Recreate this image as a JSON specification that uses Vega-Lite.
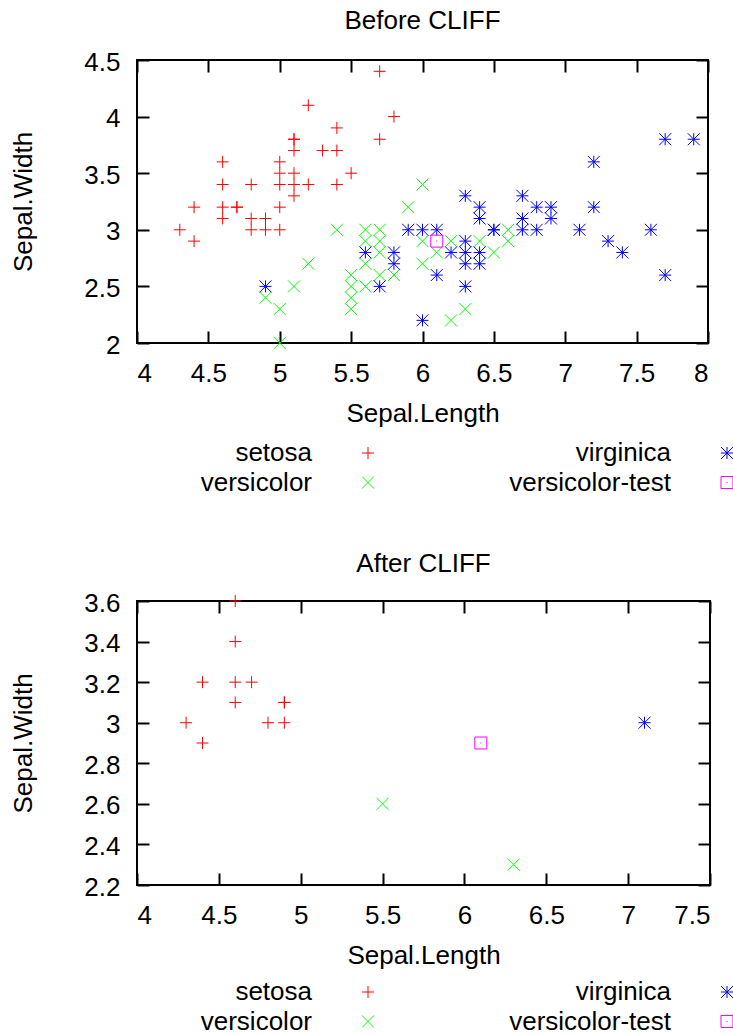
{
  "$schema": "https://vega.github.io/schema/vega-lite/v6.json",
  "padding": {"left": 9, "top": 7, "right": 0, "bottom": 0},
  "background": "white",
  "datasets": {
    "before": [
      {"species": "setosa", "sepal_length": 4.3, "sepal_width": 3.0},
      {"species": "setosa", "sepal_length": 4.4, "sepal_width": 3.2},
      {"species": "setosa", "sepal_length": 4.4, "sepal_width": 2.9},
      {"species": "setosa", "sepal_length": 4.6, "sepal_width": 3.6},
      {"species": "setosa", "sepal_length": 4.6, "sepal_width": 3.4},
      {"species": "setosa", "sepal_length": 4.6, "sepal_width": 3.2},
      {"species": "setosa", "sepal_length": 4.6, "sepal_width": 3.1},
      {"species": "setosa", "sepal_length": 4.7, "sepal_width": 3.2},
      {"species": "setosa", "sepal_length": 4.7, "sepal_width": 3.2},
      {"species": "setosa", "sepal_length": 4.8, "sepal_width": 3.4},
      {"species": "setosa", "sepal_length": 4.8, "sepal_width": 3.1},
      {"species": "setosa", "sepal_length": 4.8, "sepal_width": 3.0},
      {"species": "setosa", "sepal_length": 4.9, "sepal_width": 3.1},
      {"species": "setosa", "sepal_length": 4.9, "sepal_width": 3.0},
      {"species": "setosa", "sepal_length": 5.0, "sepal_width": 3.6},
      {"species": "setosa", "sepal_length": 5.0, "sepal_width": 3.5},
      {"species": "setosa", "sepal_length": 5.0, "sepal_width": 3.4},
      {"species": "setosa", "sepal_length": 5.0, "sepal_width": 3.2},
      {"species": "setosa", "sepal_length": 5.0, "sepal_width": 3.0},
      {"species": "setosa", "sepal_length": 5.1, "sepal_width": 3.8},
      {"species": "setosa", "sepal_length": 5.1, "sepal_width": 3.8},
      {"species": "setosa", "sepal_length": 5.1, "sepal_width": 3.7},
      {"species": "setosa", "sepal_length": 5.1, "sepal_width": 3.5},
      {"species": "setosa", "sepal_length": 5.1, "sepal_width": 3.4},
      {"species": "setosa", "sepal_length": 5.1, "sepal_width": 3.3},
      {"species": "setosa", "sepal_length": 5.2, "sepal_width": 4.1},
      {"species": "setosa", "sepal_length": 5.2, "sepal_width": 3.4},
      {"species": "setosa", "sepal_length": 5.3, "sepal_width": 3.7},
      {"species": "setosa", "sepal_length": 5.4, "sepal_width": 3.9},
      {"species": "setosa", "sepal_length": 5.4, "sepal_width": 3.7},
      {"species": "setosa", "sepal_length": 5.4, "sepal_width": 3.4},
      {"species": "setosa", "sepal_length": 5.5, "sepal_width": 3.5},
      {"species": "setosa", "sepal_length": 5.7, "sepal_width": 4.4},
      {"species": "setosa", "sepal_length": 5.7, "sepal_width": 3.8},
      {"species": "setosa", "sepal_length": 5.8, "sepal_width": 4.0},
      {"species": "versicolor", "sepal_length": 5.5, "sepal_width": 2.3},
      {"species": "versicolor", "sepal_length": 6.5, "sepal_width": 2.8},
      {"species": "versicolor", "sepal_length": 5.7, "sepal_width": 2.8},
      {"species": "versicolor", "sepal_length": 4.9, "sepal_width": 2.4},
      {"species": "versicolor", "sepal_length": 6.6, "sepal_width": 2.9},
      {"species": "versicolor", "sepal_length": 5.2, "sepal_width": 2.7},
      {"species": "versicolor", "sepal_length": 5.0, "sepal_width": 2.0},
      {"species": "versicolor", "sepal_length": 6.2, "sepal_width": 2.2},
      {"species": "versicolor", "sepal_length": 5.6, "sepal_width": 2.9},
      {"species": "versicolor", "sepal_length": 5.6, "sepal_width": 3.0},
      {"species": "versicolor", "sepal_length": 5.6, "sepal_width": 2.5},
      {"species": "versicolor", "sepal_length": 6.1, "sepal_width": 2.8},
      {"species": "versicolor", "sepal_length": 6.4, "sepal_width": 2.9},
      {"species": "versicolor", "sepal_length": 6.6, "sepal_width": 3.0},
      {"species": "versicolor", "sepal_length": 6.0, "sepal_width": 2.9},
      {"species": "versicolor", "sepal_length": 5.7, "sepal_width": 2.6},
      {"species": "versicolor", "sepal_length": 5.5, "sepal_width": 2.4},
      {"species": "versicolor", "sepal_length": 6.0, "sepal_width": 2.7},
      {"species": "versicolor", "sepal_length": 5.4, "sepal_width": 3.0},
      {"species": "versicolor", "sepal_length": 6.0, "sepal_width": 3.4},
      {"species": "versicolor", "sepal_length": 6.3, "sepal_width": 2.3},
      {"species": "versicolor", "sepal_length": 5.5, "sepal_width": 2.5},
      {"species": "versicolor", "sepal_length": 5.5, "sepal_width": 2.6},
      {"species": "versicolor", "sepal_length": 5.8, "sepal_width": 2.6},
      {"species": "versicolor", "sepal_length": 5.0, "sepal_width": 2.3},
      {"species": "versicolor", "sepal_length": 5.6, "sepal_width": 2.7},
      {"species": "versicolor", "sepal_length": 5.7, "sepal_width": 3.0},
      {"species": "versicolor", "sepal_length": 5.7, "sepal_width": 2.9},
      {"species": "versicolor", "sepal_length": 6.2, "sepal_width": 2.9},
      {"species": "versicolor", "sepal_length": 5.1, "sepal_width": 2.5},
      {"species": "versicolor", "sepal_length": 5.9, "sepal_width": 3.2},
      {"species": "virginica", "sepal_length": 7.7, "sepal_width": 3.8},
      {"species": "virginica", "sepal_length": 7.9, "sepal_width": 3.8},
      {"species": "virginica", "sepal_length": 7.2, "sepal_width": 3.6},
      {"species": "virginica", "sepal_length": 6.3, "sepal_width": 3.3},
      {"species": "virginica", "sepal_length": 6.7, "sepal_width": 3.3},
      {"species": "virginica", "sepal_length": 6.4, "sepal_width": 3.2},
      {"species": "virginica", "sepal_length": 6.8, "sepal_width": 3.2},
      {"species": "virginica", "sepal_length": 6.9, "sepal_width": 3.2},
      {"species": "virginica", "sepal_length": 7.2, "sepal_width": 3.2},
      {"species": "virginica", "sepal_length": 6.4, "sepal_width": 3.1},
      {"species": "virginica", "sepal_length": 6.7, "sepal_width": 3.1},
      {"species": "virginica", "sepal_length": 6.9, "sepal_width": 3.1},
      {"species": "virginica", "sepal_length": 5.9, "sepal_width": 3.0},
      {"species": "virginica", "sepal_length": 6.0, "sepal_width": 3.0},
      {"species": "virginica", "sepal_length": 6.1, "sepal_width": 3.0},
      {"species": "virginica", "sepal_length": 6.5, "sepal_width": 3.0},
      {"species": "virginica", "sepal_length": 6.5, "sepal_width": 3.0},
      {"species": "virginica", "sepal_length": 6.7, "sepal_width": 3.0},
      {"species": "virginica", "sepal_length": 6.8, "sepal_width": 3.0},
      {"species": "virginica", "sepal_length": 7.1, "sepal_width": 3.0},
      {"species": "virginica", "sepal_length": 7.6, "sepal_width": 3.0},
      {"species": "virginica", "sepal_length": 6.3, "sepal_width": 2.9},
      {"species": "virginica", "sepal_length": 7.3, "sepal_width": 2.9},
      {"species": "virginica", "sepal_length": 5.6, "sepal_width": 2.8},
      {"species": "virginica", "sepal_length": 5.8, "sepal_width": 2.8},
      {"species": "virginica", "sepal_length": 6.2, "sepal_width": 2.8},
      {"species": "virginica", "sepal_length": 6.3, "sepal_width": 2.8},
      {"species": "virginica", "sepal_length": 6.4, "sepal_width": 2.8},
      {"species": "virginica", "sepal_length": 7.4, "sepal_width": 2.8},
      {"species": "virginica", "sepal_length": 5.8, "sepal_width": 2.7},
      {"species": "virginica", "sepal_length": 6.3, "sepal_width": 2.7},
      {"species": "virginica", "sepal_length": 6.4, "sepal_width": 2.7},
      {"species": "virginica", "sepal_length": 6.1, "sepal_width": 2.6},
      {"species": "virginica", "sepal_length": 7.7, "sepal_width": 2.6},
      {"species": "virginica", "sepal_length": 4.9, "sepal_width": 2.5},
      {"species": "virginica", "sepal_length": 5.7, "sepal_width": 2.5},
      {"species": "virginica", "sepal_length": 6.3, "sepal_width": 2.5},
      {"species": "virginica", "sepal_length": 6.0, "sepal_width": 2.2},
      {"species": "versicolor-test", "sepal_length": 6.1, "sepal_width": 2.9}
    ],
    "after": [
      {"species": "setosa", "sepal_length": 4.3, "sepal_width": 3.0},
      {"species": "setosa", "sepal_length": 4.4, "sepal_width": 3.2},
      {"species": "setosa", "sepal_length": 4.4, "sepal_width": 2.9},
      {"species": "setosa", "sepal_length": 4.6, "sepal_width": 3.6},
      {"species": "setosa", "sepal_length": 4.6, "sepal_width": 3.4},
      {"species": "setosa", "sepal_length": 4.6, "sepal_width": 3.2},
      {"species": "setosa", "sepal_length": 4.6, "sepal_width": 3.1},
      {"species": "setosa", "sepal_length": 4.7, "sepal_width": 3.2},
      {"species": "setosa", "sepal_length": 4.8, "sepal_width": 3.0},
      {"species": "setosa", "sepal_length": 4.9, "sepal_width": 3.1},
      {"species": "setosa", "sepal_length": 4.9, "sepal_width": 3.1},
      {"species": "setosa", "sepal_length": 4.9, "sepal_width": 3.0},
      {"species": "versicolor", "sepal_length": 5.5, "sepal_width": 2.6},
      {"species": "versicolor", "sepal_length": 6.3, "sepal_width": 2.3},
      {"species": "virginica", "sepal_length": 7.1, "sepal_width": 3.0},
      {"species": "versicolor-test", "sepal_length": 6.1, "sepal_width": 2.9}
    ]
  },
  "config": {
    "font": "Liberation Sans",
    "view": {"stroke": "black", "strokeWidth": 2},
    "axis": {
      "domain": false,
      "grid": false,
      "tickSize": -12,
      "tickWidth": 2,
      "tickColor": "black",
      "labelFont": "Liberation Sans",
      "labelFontSize": 26,
      "labelColor": "black",
      "titleFont": "Liberation Sans",
      "titleFontSize": 26,
      "titleFontWeight": "normal",
      "titleColor": "black",
      "format": "~g"
    },
    "axisX": {"labelPadding": 29, "titlePadding": 14},
    "axisY": {"labelPadding": 29, "titlePadding": 47, "labelOffset": 2},
    "title": {"font": "Liberation Sans", "fontSize": 26, "fontWeight": "normal", "color": "black", "anchor": "middle", "frame": "group", "baseline": "alphabetic"},
    "legend": {
      "labelFont": "Liberation Sans",
      "labelFontSize": 26,
      "labelColor": "black",
      "labelAlign": "right",
      "labelOffset": -69,
      "labelLimit": 400,
      "symbolSize": 144,
      "symbolStrokeWidth": 1,
      "columns": 2,
      "orient": "none",
      "gridAlign": "each",
      "columnPadding": 133,
      "rowPadding": 3.5,
      "padding": 0
    }
  },
  "resolve": {"scale": {"color": "independent", "shape": "independent"}},
  "spacing": 53,
  "vconcat": [
    {
      "title": {"text": "Before CLIFF", "offset": 15},
      "width": 571,
      "height": 283,
      "resolve": {"axis": {"x": "independent", "y": "independent"}},
      "layer": [
        {
          "data": {"name": "before"},
          "transform": [{"filter": "datum.species !== 'versicolor-test'"}],
          "mark": {"type": "point", "filled": false, "size": 144, "strokeWidth": 1, "opacity": 1},
          "encoding": {
            "x": {"field": "sepal_length", "type": "quantitative", "scale": {"domain": [4, 8], "nice": false, "zero": false}, "axis": {"orient": "bottom", "title": "Sepal.Length", "values": [4, 4.5, 5, 5.5, 6, 6.5, 7, 7.5, 8]}},
            "y": {"field": "sepal_width", "type": "quantitative", "scale": {"domain": [2, 4.5], "nice": false, "zero": false}, "axis": {"orient": "left", "title": "Sepal.Width", "values": [2, 2.5, 3, 3.5, 4, 4.5]}},
            "color": {"field": "species", "type": "nominal", "scale": {"domain": ["setosa", "versicolor", "virginica", "versicolor-test"], "range": ["#ff0000", "#00ff00", "#0000ff", "#ff00ff"]}, "legend": {"title": null, "legendX": 218, "legendY": 380}},
            "shape": {"field": "species", "type": "nominal", "scale": {"domain": ["setosa", "versicolor", "virginica", "versicolor-test"], "range": ["M-1,0L1,0M0,-1L0,1", "M-1,-1L1,1M-1,1L1,-1", "M-1,0L1,0M0,-1L0,1M-1,-1L1,1M-1,1L1,-1", "M-1,-1L1,-1L1,1L-1,1ZM-0.08,0L0.08,0"]}, "legend": {"title": null, "legendX": 218, "legendY": 380}}
          }
        },
        {
          "data": {"name": "before"},
          "transform": [{"filter": "datum.species === 'versicolor-test'"}],
          "mark": {"type": "point", "filled": false, "size": 144, "strokeWidth": 1, "opacity": 1},
          "encoding": {
            "x": {"field": "sepal_length", "type": "quantitative", "scale": {"domain": [4, 8], "nice": false, "zero": false}, "axis": {"orient": "top", "labels": false, "title": null, "values": [4, 4.5, 5, 5.5, 6, 6.5, 7, 7.5, 8]}},
            "y": {"field": "sepal_width", "type": "quantitative", "scale": {"domain": [2, 4.5], "nice": false, "zero": false}, "axis": {"orient": "right", "labels": false, "title": null, "values": [2, 2.5, 3, 3.5, 4, 4.5]}},
            "color": {"field": "species", "type": "nominal", "scale": {"domain": ["setosa", "versicolor", "virginica", "versicolor-test"], "range": ["#ff0000", "#00ff00", "#0000ff", "#ff00ff"]}, "legend": {"title": null, "legendX": 218, "legendY": 380}},
            "shape": {"field": "species", "type": "nominal", "scale": {"domain": ["setosa", "versicolor", "virginica", "versicolor-test"], "range": ["M-1,0L1,0M0,-1L0,1", "M-1,-1L1,1M-1,1L1,-1", "M-1,0L1,0M0,-1L0,1M-1,-1L1,1M-1,1L1,-1", "M-1,-1L1,-1L1,1L-1,1ZM-0.08,0L0.08,0"]}, "legend": {"title": null, "legendX": 218, "legendY": 380}}
          }
        }
      ]
    },
    {
      "title": {"text": "After CLIFF", "offset": 13},
      "width": 573,
      "height": 284,
      "resolve": {"axis": {"x": "independent", "y": "independent"}},
      "layer": [
        {
          "data": {"name": "after"},
          "transform": [{"filter": "datum.species !== 'versicolor-test'"}],
          "mark": {"type": "point", "filled": false, "size": 144, "strokeWidth": 1, "opacity": 1},
          "encoding": {
            "x": {"field": "sepal_length", "type": "quantitative", "scale": {"domain": [4, 7.5], "nice": false, "zero": false}, "axis": {"orient": "bottom", "title": "Sepal.Length", "values": [4, 4.5, 5, 5.5, 6, 6.5, 7, 7.5]}},
            "y": {"field": "sepal_width", "type": "quantitative", "scale": {"domain": [2.2, 3.6], "nice": false, "zero": false}, "axis": {"orient": "left", "title": "Sepal.Width", "values": [2.2, 2.4, 2.6, 2.8, 3, 3.2, 3.4, 3.6]}},
            "color": {"field": "species", "type": "nominal", "scale": {"domain": ["setosa", "versicolor", "virginica", "versicolor-test"], "range": ["#ff0000", "#00ff00", "#0000ff", "#ff00ff"]}, "legend": {"title": null, "legendX": 218, "legendY": 378}},
            "shape": {"field": "species", "type": "nominal", "scale": {"domain": ["setosa", "versicolor", "virginica", "versicolor-test"], "range": ["M-1,0L1,0M0,-1L0,1", "M-1,-1L1,1M-1,1L1,-1", "M-1,0L1,0M0,-1L0,1M-1,-1L1,1M-1,1L1,-1", "M-1,-1L1,-1L1,1L-1,1ZM-0.08,0L0.08,0"]}, "legend": {"title": null, "legendX": 218, "legendY": 378}}
          }
        },
        {
          "data": {"name": "after"},
          "transform": [{"filter": "datum.species === 'versicolor-test'"}],
          "mark": {"type": "point", "filled": false, "size": 144, "strokeWidth": 1, "opacity": 1},
          "encoding": {
            "x": {"field": "sepal_length", "type": "quantitative", "scale": {"domain": [4, 7.5], "nice": false, "zero": false}, "axis": {"orient": "top", "labels": false, "title": null, "values": [4, 4.5, 5, 5.5, 6, 6.5, 7, 7.5]}},
            "y": {"field": "sepal_width", "type": "quantitative", "scale": {"domain": [2.2, 3.6], "nice": false, "zero": false}, "axis": {"orient": "right", "labels": false, "title": null, "values": [2.2, 2.4, 2.6, 2.8, 3, 3.2, 3.4, 3.6]}},
            "color": {"field": "species", "type": "nominal", "scale": {"domain": ["setosa", "versicolor", "virginica", "versicolor-test"], "range": ["#ff0000", "#00ff00", "#0000ff", "#ff00ff"]}, "legend": {"title": null, "legendX": 218, "legendY": 378}},
            "shape": {"field": "species", "type": "nominal", "scale": {"domain": ["setosa", "versicolor", "virginica", "versicolor-test"], "range": ["M-1,0L1,0M0,-1L0,1", "M-1,-1L1,1M-1,1L1,-1", "M-1,0L1,0M0,-1L0,1M-1,-1L1,1M-1,1L1,-1", "M-1,-1L1,-1L1,1L-1,1ZM-0.08,0L0.08,0"]}, "legend": {"title": null, "legendX": 218, "legendY": 378}}
          }
        }
      ]
    }
  ]
}
